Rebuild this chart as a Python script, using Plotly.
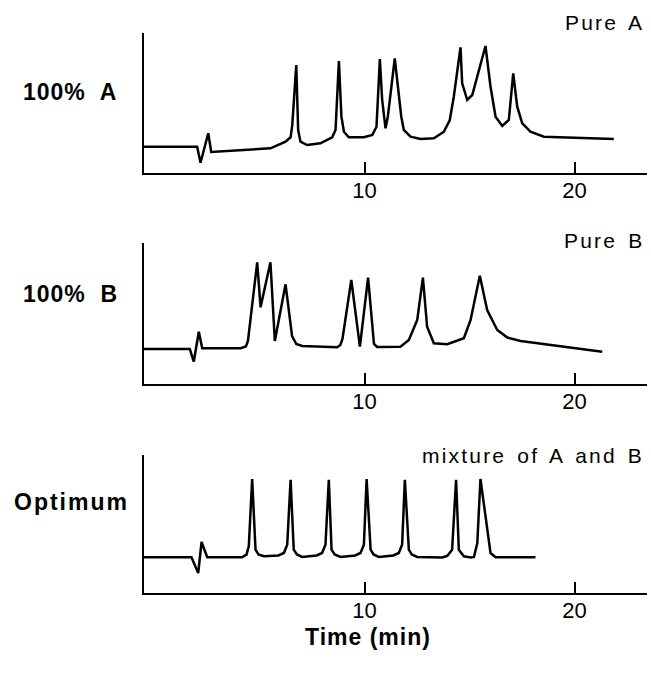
import plotly.graph_objects as go

# ---- data (time in min, detector signal in arbitrary units) ----
time_a = [-0.5, 2.03, 2.19, 2.56, 2.70, 5.52, 6.24, 6.48, 6.56, 6.75, 6.84, 6.95, 7.27, 7.90,
          8.46, 8.62, 8.78, 8.90, 9.02, 9.25, 9.97, 10.37, 10.57, 10.73, 10.84, 11.00, 11.11,
          11.44, 11.75, 11.87, 12.19, 12.67, 13.30, 13.78, 14.06, 14.25, 14.57, 14.65, 14.89,
          15.13, 15.76, 16.00, 16.24, 16.56, 16.87, 17.08, 17.27, 17.51, 17.90, 18.54, 21.87]
sig_a = [26.3, 26.3, 10.3, 39.7, 21.0, 24.7, 31.3, 35.7, 48.0, 108.0, 43.0, 31.3, 28.0, 29.7,
         35.7, 43.0, 112.0, 56.3, 41.3, 35.7, 35.7, 38.0, 46.3, 114.0, 73.0, 44.7, 56.3,
         114.7, 56.3, 43.0, 36.3, 34.0, 34.7, 41.3, 53.0, 76.3, 125.7, 89.7, 73.0,
         78.0, 127.0, 86.3, 56.3, 47.0, 53.0, 99.7, 66.3, 49.7, 41.3, 36.3, 34.0]

time_b = [-0.5, 1.68, 1.87, 2.11, 2.27, 4.10, 4.35, 4.45, 4.89, 5.05, 5.52, 5.73, 6.24, 6.55,
          6.75, 7.03, 8.70, 8.85, 8.95, 9.37, 9.78, 10.17, 10.45, 10.60, 11.71, 12.11, 12.51,
          12.78, 12.98, 13.30, 13.94, 14.73, 15.05, 15.49, 15.84, 16.32, 16.80, 17.43, 21.32]
sig_b = [35.0, 35.0, 22.3, 52.3, 35.7, 35.7, 37.5, 43.0, 121.7, 76.7, 121.7, 43.0, 99.7, 48.0,
         40.0, 38.0, 36.7, 39.0, 45.0, 104.0, 37.3, 106.3, 40.0, 37.0, 37.3, 44.0, 64.0,
         106.3, 57.3, 40.7, 39.7, 45.7, 64.0, 108.3, 74.0, 54.0, 46.5, 43.0, 32.3]

time_m = [-0.5, 1.76, 2.08, 2.24, 2.51, 4.17, 4.38, 4.49, 4.65, 4.81, 4.95, 5.21, 5.90, 6.16,
          6.32, 6.48, 6.63, 6.78, 7.03, 7.72, 7.98, 8.14, 8.30, 8.43, 8.58, 8.86, 9.55, 9.81,
          9.97, 10.10, 10.29, 10.43, 10.68, 11.37, 11.63, 11.79, 11.92, 12.11, 12.25, 12.51,
          13.70, 13.94, 14.17, 14.36, 14.49, 14.73, 15.05, 15.21, 15.37, 15.52, 16.00, 16.24,
          18.14]
sig_m = [35.7, 35.7, 20.0, 51.0, 35.7, 35.7, 38.3, 46.7, 114.0, 43.3, 38.5, 36.7, 37.5, 40.0,
         48.3, 113.3, 43.3, 38.5, 36.0, 37.5, 40.0, 48.3, 113.3, 43.3, 38.5, 36.0, 37.5, 40.0,
         48.3, 114.0, 43.3, 38.5, 36.0, 37.5, 40.0, 48.3, 113.3, 43.3, 38.5, 36.0,
         35.5, 37.0, 43.3, 113.3, 43.3, 36.7, 35.5, 36.0, 50.0, 114.0, 40.0, 35.7,
         35.7]

tick_vals = [10, 20]
tick_text = ["10", "20"]
row_labels = ["100% A", "100% B", "Optimum"]
panel_titles = ["Pure A", "Pure B", "mixture of A and B"]
x_title = "Time (min)"

W, H = 651, 674
ML, MR = 144, 4
font_family = "Liberation Sans, Arial, Helvetica, sans-serif"

# panel pixel extents (top, bottom) and y range
panels = [(33, 173, 140.0), (243, 384, 141.0), (455, 593, 138.0)]

fig = go.Figure()
series = [(time_a, sig_a), (time_b, sig_b), (time_m, sig_m)]
for i, (t, s) in enumerate(series):
    suffix = "" if i == 0 else str(i + 1)
    fig.add_trace(go.Scatter(x=t, y=s, mode="lines",
                             line=dict(color="black", width=2.5),
                             xaxis="x" + suffix, yaxis="y" + suffix,
                             showlegend=False, hoverinfo="skip"))

layout = dict(width=W, height=H, margin=dict(l=ML, r=MR, t=0, b=0),
              paper_bgcolor="white", plot_bgcolor="white", showlegend=False,
              font=dict(family=font_family, color="black"))

for i, (top, bot, ymax) in enumerate(panels):
    suffix = "" if i == 0 else str(i + 1)
    dom = [1 - bot / H, 1 - top / H]
    layout["xaxis" + suffix] = dict(
        range=[-0.5, 23.45], domain=[0, 1], anchor="y" + suffix,
        showline=True, linecolor="black", linewidth=2, mirror=False,
        showgrid=False, zeroline=False,
        ticks="inside", ticklen=11, tickwidth=2, tickcolor="black",
        tickvals=tick_vals, ticktext=tick_text, ticklabelstandoff=-3,
        tickfont=dict(size=22, family=font_family, color="black"),
    )
    layout["yaxis" + suffix] = dict(
        range=[0, ymax], domain=dom, anchor="x" + suffix,
        showline=True, linecolor="black", linewidth=2,
        showgrid=False, zeroline=False, showticklabels=False, ticks="",
    )

fig.update_layout(**layout)

label_y = [92, 294, 502]
label_x = [21, 21, 12]
label_spacing = [1, 1, 2]
title_y = [22, 240, 455]
annotations = []
for i in range(3):
    annotations.append(dict(
        text="<b><span style='letter-spacing:%dpx'>" % label_spacing[i]
             + row_labels[i].replace("% ", "%&nbsp; ") + "</span></b>",
        xref="paper", yref="paper",
        x=(label_x[i] - ML) / (W - ML - MR), y=1 - label_y[i] / H,
        xanchor="left", yanchor="middle", showarrow=False,
        font=dict(size=23, family=font_family, color="black")))
    annotations.append(dict(
        text="<span style='letter-spacing:2.2px;word-spacing:3px'>" + panel_titles[i] + "</span>",
        xref="paper", yref="paper",
        x=(646 - ML) / (W - ML - MR), y=1 - title_y[i] / H,
        xanchor="right", yanchor="middle", showarrow=False,
        font=dict(size=21, family=font_family, color="black")))
annotations.append(dict(
    text="<b><span style='letter-spacing:1px'>" + x_title + "</span></b>",
    xref="paper", yref="paper",
    x=(368 - ML) / (W - ML - MR), y=1 - 637 / H,
    xanchor="center", yanchor="middle", showarrow=False,
    font=dict(size=23, family=font_family, color="black")))
fig.update_layout(annotations=annotations)

fig.write_html("out.html")
